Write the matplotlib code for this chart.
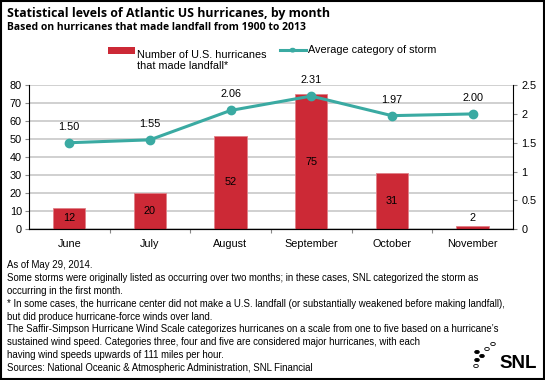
import matplotlib
matplotlib.use("Agg")
import matplotlib.pyplot as plt
from matplotlib.patches import Rectangle, Circle

months = ["June", "July", "August", "September", "October", "November"]
hurricanes = [12, 20, 52, 75, 31, 2]
avg_category = [1.50, 1.55, 2.06, 2.31, 1.97, 2.00]
left_ticks = [0, 10, 20, 30, 40, 50, 60, 70, 80]
right_ticks = [0, 0.5, 1, 1.5, 2, 2.5]
right_labels = ["0", "0.5", "1", "1.5", "2", "2.5"]

notes = [
    "As of May 29, 2014.",
    "Some storms were originally listed as occurring over two months; in these cases, SNL categorized the storm as",
    "occurring in the first month.",
    "* In some cases, the hurricane center did not make a U.S. landfall (or substantially weakened before making landfall),",
    "but did produce hurricane-force winds over land.",
    "The Saffir-Simpson Hurricane Wind Scale categorizes hurricanes on a scale from one to five based on a hurricane\u2019s",
    "sustained wind speed. Categories three, four and five are considered major hurricanes, with each",
    "having wind speeds upwards of 111 miles per hour.",
    "Sources: National Oceanic & Atmospheric Administration, SNL Financial",
]

RED = "#CC2936"
TEAL = "#3AAAA2"
GRID = "#C8C8C8"

plt.rcParams["font.family"] = ["Liberation Sans", "DejaVu Sans"]

fig = plt.figure(figsize=(5.45, 3.8), dpi=100)
fig.patch.set_facecolor("white")
fig.add_artist(Rectangle((0.002, 0.003), 0.996, 0.994, transform=fig.transFigure,
                         fill=False, edgecolor="black", linewidth=1.5))

title = fig.text(0.013, 0.965, "Statistical levels of Atlantic US hurricanes, by month",
                 fontsize=9.6, fontweight="bold", va="center", family=["Open Sans", "DejaVu Sans"])
subtitle = fig.text(0.013, 0.928, "Based on hurricanes that made landfall from 1900 to 2013",
                    fontsize=7.5, fontweight="bold", va="center", family=["Open Sans", "DejaVu Sans"])

ax = fig.add_axes([0.053, 0.397, 0.888, 0.379])
x = list(range(len(months)))
bars = ax.bar(x, hurricanes, width=0.4, color=RED, edgecolor="#E08088", linewidth=0.6, zorder=2)
ax.set_xlim(-0.5, len(months) - 0.5)
ax.set_ylim(0, 80)
ax.set_yticks(left_ticks)
ax.yaxis.grid(True, color=GRID, linewidth=1.2, zorder=0)
ax.set_axisbelow(True)
ax.set_xticks([i + 0.5 for i in x[:-1]])
ax.set_xticklabels([])
ax.set_xticks(x, minor=True)
ax.set_xticklabels(months, minor=True, fontsize=7.8)
ax.tick_params(axis="x", which="minor", length=0, pad=7)
ax.tick_params(axis="x", which="major", length=3, color="#888888")
ax.tick_params(axis="y", labelsize=7.8, length=3, color="#888888", pad=2)
ax.spines["top"].set_visible(False)
ax.spines["right"].set_visible(False)

for b, v in zip(bars, hurricanes):
    if v >= 10:
        ax.text(b.get_x() + b.get_width() / 2, v / 2, str(v), ha="center", va="center", fontsize=7.8)
    else:
        ax.text(b.get_x() + b.get_width() / 2, v + 1.5, str(v), ha="center", va="bottom", fontsize=7.8)

ax2 = ax.twinx()
ax2.set_ylim(0, 2.5)
ax2.set_yticks(right_ticks)
ax2.set_yticklabels(right_labels)
ax2.tick_params(axis="y", labelsize=7.8, length=3, color="#888888", pad=3)
ax2.spines["top"].set_visible(False)
ax2.spines["left"].set_visible(False)
ax2.plot(x, avg_category, color=TEAL, linewidth=2.2, marker="o", markersize=6, zorder=3)
for xi, v in zip(x, avg_category):
    ax2.annotate(f"{v:.2f}", (xi, v), xytext=(0, 8), textcoords="offset points",
                 ha="center", va="bottom", fontsize=7.8)

# legend drawn by hand to match layout
fig.add_artist(Rectangle((0.198, 0.857), 0.05, 0.02, transform=fig.transFigure,
                         color=RED, linewidth=0))
fig.text(0.251, 0.868, "Number of U.S. hurricanes\nthat made landfall*", fontsize=7.8,
         va="top", linespacing=1.1)
fig.lines.append(plt.Line2D([0.514, 0.561], [0.868, 0.868], transform=fig.transFigure,
                            color=TEAL, linewidth=2.2))
fig.add_artist(Circle((0.537, 0.868), 0.0045, transform=fig.transFigure, color=TEAL))
fig.text(0.565, 0.868, "Average category of storm", fontsize=7.8, va="center")

# footnotes
y0 = 1 - 265 / 380
note_texts = [fig.text(0.013, y0 - i * 12.9 / 380, line, fontsize=7, va="center")
              for i, line in enumerate(notes)]

# fit text widths to the reference (title 323px, subtitle 297px, widest note 498px)
renderer = fig.canvas.get_renderer()
for t, target in [(title, 323), (subtitle, 297)]:
    t.set_fontsize(t.get_fontsize() * target / t.get_window_extent(renderer).width)
widest = max(t.get_window_extent(renderer).width for t in note_texts)
for t in note_texts:
    t.set_fontsize(7 * 498 / widest)

# SNL logo
fig.text(0.985, 1 - 368 / 380, "SNL", fontsize=13.5, fontweight="bold", ha="right",
         va="baseline", family=["Liberation Sans", "DejaVu Sans"])
for (px, py, filled) in [(477, 352, True), (482, 356, True), (477, 360, True),
                         (476, 366, False), (487, 349, False), (493, 344, False)]:
    fig.add_artist(Circle((px / 545, 1 - py / 380), 0.0042, transform=fig.transFigure,
                          facecolor="black" if filled else "white", edgecolor="black",
                          linewidth=0.6))

fig.savefig("out.png", dpi=100)
